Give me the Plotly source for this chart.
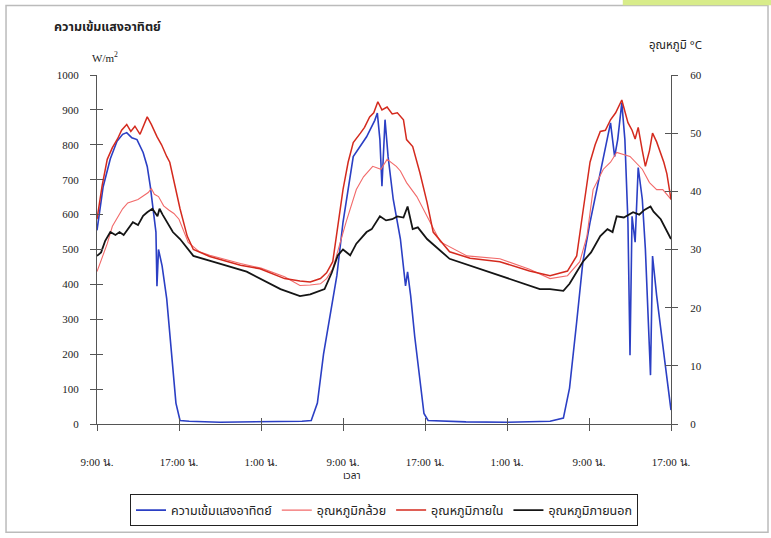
import plotly.graph_objects as go

# ---------------- data (hours since 9:00 of day 1) ----------------
tick_hours = [0, 8, 16, 24, 32, 40, 48, 56]
tick_labels = ["9:00 น.", "17:00 น.", "1:00 น.", "9:00 น.", "17:00 น.", "1:00 น.", "9:00 น.", "17:00 น."]

solar_hours = [0, 0.6, 1.3, 1.95, 2.5, 2.9, 3.4, 3.9, 4.5, 4.9, 5.2, 5.5, 5.75, 5.85, 6.0, 6.15, 6.35,
               6.8, 7.3, 7.7, 8.1, 9, 12, 16, 20, 20.9, 21.5, 22.1, 22.85, 23.4, 24.0, 25.0, 26.3,
               27.1, 27.35, 27.6, 27.8, 28.1, 28.4, 28.9, 29.6, 30.1, 30.3, 30.6, 31.0, 31.5, 31.9,
               32.3, 36, 40, 44.2, 45.5, 46.1, 46.8, 47.4, 48.1, 49.1, 50.1, 50.5, 50.8, 51.2, 51.5,
               51.8, 52.0, 52.2, 52.5, 52.8, 53.2, 53.5, 54.0, 54.2, 54.6, 55.4, 56.0]
solar_wm2 = [555, 680, 760, 810, 830, 835, 820, 815, 778, 738, 681, 615, 550, 395, 500, 480, 453,
             359, 200, 60, 10, 8, 5, 6, 8, 10, 60, 200, 330, 425, 578, 766, 823,
             870, 891, 815, 681, 872, 766, 644, 530, 396, 436, 368, 250, 120, 30,
             10, 6, 5, 8, 17, 103, 293, 464, 578, 720, 863, 766, 815, 920, 815,
             578, 197, 595, 521, 735, 644, 501, 140, 481, 368, 179, 40]

inner_hours = [0, 0.5, 1.0, 1.5, 2.0, 2.4, 2.9, 3.3, 3.7, 4.2, 4.9, 5.3, 5.85, 6.3, 6.8, 7.1, 7.6, 8.1,
               8.8, 9.4, 11.0, 14.0, 15.9, 18.3, 19.8, 20.8, 21.8, 22.4, 23.0, 23.5, 24.0, 24.5, 25.0,
               25.7, 26.1, 26.6, 27.0, 27.4, 27.8, 28.3, 28.8, 29.3, 29.9, 30.2, 30.8, 31.5, 32.2,
               32.8, 34.4, 36.4, 39.3, 42.2, 44.2, 45.9, 46.8, 47.4, 48.1, 48.6, 49.1, 49.6, 50.1,
               50.6, 51.2, 51.8, 52.2, 52.5, 52.8, 53.2, 53.5, 53.9, 54.2, 54.6, 54.9, 55.3, 55.6, 56.0]
inner_temp = [35.2, 41, 45.5, 47.5, 49, 50.5, 51.5, 50.3, 51.2, 49.8, 52.8, 51.5, 49.4, 48.0, 46.0, 45.0, 41, 37,
              32.3, 30.0, 28.8, 27.3, 26.7, 25, 24.6, 24.4, 25, 26, 27.9, 34, 40.3, 45, 48.4,
              50, 51, 52.8, 53.5, 55.4, 54.0, 54.5, 53.3, 53.5, 52.3, 48.9, 47.7, 43.2, 38.1,
              33, 29.6, 28.5, 27.9, 26.3, 25.5, 26.3, 28.9, 36.4, 45, 48, 50.3, 50.5, 52.3,
              53.5, 55.7, 51.8, 50.5, 49, 51, 47, 44.3, 47, 50, 48.5, 47, 45, 43, 38.6]

banana_hours = [0, 0.5, 1.0, 1.5, 2.0, 2.5, 3.0, 3.5, 4.0, 4.5, 5.0, 5.3, 5.6, 6.0, 6.5, 7.0, 7.5, 8.0,
                8.9, 10.0, 11.0, 14.0, 16.0, 18.3, 19.8, 20.8, 21.8, 22.4, 23.0, 24.3, 25.3, 26.0,
                26.9, 27.7, 28.3, 29.2, 29.6, 30.2, 31.2, 32.2, 33.5, 36.1, 39.3, 42.2, 44.2, 45.9,
                47.1, 47.8, 48.4, 49.4, 50.1, 50.7, 52.0, 53.2, 53.9, 54.6, 55.2, 56.0]
banana_temp = [26.2, 28.5, 31, 34, 35.5, 37, 38, 38.3, 38.6, 39.2, 39.8, 40.5, 39.5, 39.1, 37.5, 36.8, 36.2, 35.2,
               31.2, 29.6, 29.0, 27.6, 26.8, 25.3, 23.8, 23.9, 24.1, 25, 26.7, 34.7, 40.3, 42.5,
               44.3, 43.8, 45.5, 44.3, 43.5, 41.5, 39.1, 35.7, 31.3, 28.9, 28.4, 26.6, 25, 25.5,
               27.9, 32.3, 40.3, 43.8, 45, 46.7, 46, 43.8, 41.5, 40.3, 40.3, 38.6]

outside_hours = [0, 0.4, 0.8, 1.3, 1.8, 2.2, 2.6, 3.1, 3.5, 4.0, 4.5, 4.9, 5.4, 5.9, 6.1, 6.4, 6.8, 7.4,
                 8.1, 9.4, 11.3, 14.6, 17.9, 19.8, 20.8, 22.2, 22.9, 23.5, 24.0, 24.7, 25.3, 25.8,
                 26.3, 26.8, 27.6, 28.2, 28.8, 29.3, 29.9, 30.3, 30.8, 31.3, 32.2, 34.4, 39.3, 43.2,
                 44.2, 45.5, 46.1, 47.4, 48.2, 49.1, 49.8, 50.3, 50.7, 51.4, 52.3, 52.9, 53.4, 54.0,
                 54.3, 55.0, 56.0]
outside_temp = [28.9, 29.5, 31.5, 33, 32.5, 33, 32.5, 33.8, 34.7, 34.2, 35.8, 36.4, 37, 35.7, 37, 36, 34.7, 33,
                31.8, 28.9, 27.9, 26.2, 23.2, 22, 22.3, 23.2, 26, 29, 30, 29, 31, 32,
                33, 33.5, 35.7, 35, 35.2, 35.7, 35.5, 37.4, 33.5, 33.8, 31.8, 28.4, 25.5, 23.2,
                23.2, 22.9, 24.1, 27.9, 29.5, 32.3, 33.5, 33, 35.7, 35.5, 36.4, 36, 36.8, 37.4,
                36.5, 35.2, 31.8]

series_names = ["ความเข้มแสงอาทิตย์", "อุณหภูมิกล้วย", "อุณหภูมิภายใน", "อุณหภูมิภายนอก"]

# ---------------- figure ----------------
serif = "Liberation Serif, Times New Roman, serif"
thai = "Noto Sans Thai, Loma, Garuda, Tlwg Typo, DejaVu Sans, sans-serif"

fig = go.Figure()
fig.add_trace(go.Scatter(x=solar_hours, y=solar_wm2, name=series_names[0], mode="lines",
                         line=dict(color="#2b3fc4", width=1.6), yaxis="y"))
fig.add_trace(go.Scatter(x=banana_hours, y=banana_temp, name=series_names[1], mode="lines",
                         line=dict(color="#f26a6a", width=1.1), yaxis="y2"))
fig.add_trace(go.Scatter(x=inner_hours, y=inner_temp, name=series_names[2], mode="lines",
                         line=dict(color="#d42a1e", width=1.5), yaxis="y2"))
fig.add_trace(go.Scatter(x=outside_hours, y=outside_temp, name=series_names[3], mode="lines",
                         line=dict(color="#151515", width=1.8), yaxis="y2"))

axis_font = dict(family=serif, size=11, color="#222")
fig.update_layout(
    width=771, height=538,
    margin=dict(l=97, r=100, t=75, b=112),
    paper_bgcolor="white", plot_bgcolor="white",
    showlegend=True,
    xaxis=dict(range=[0, 56], tickvals=tick_hours, ticktext=tick_labels, showgrid=False,
               zeroline=False, showline=True, linecolor="#555", linewidth=1,
               ticks="outside", ticklen=6, tickcolor="#555", tickfont=axis_font,
               ticklabelstandoff=22),
    xaxis2=dict(range=[0, 56], tickvals=tick_hours, overlaying="x", side="bottom",
                showticklabels=False, showgrid=False, zeroline=False,
                ticks="inside", ticklen=6, tickcolor="#555", anchor="y"),
    yaxis=dict(range=[0, 1000], dtick=100, showgrid=False, zeroline=False, showline=True,
               linecolor="#555", linewidth=1, ticks="outside", ticklen=6, tickcolor="#555",
               tickfont=axis_font, ticklabelstandoff=9),
    yaxis2=dict(range=[0, 60], dtick=10, overlaying="y", side="right", showgrid=False,
                zeroline=False, showline=True, linecolor="#555", linewidth=1, ticks="outside",
                ticklen=6, tickcolor="#555", tickfont=axis_font, ticklabelstandoff=10),
    yaxis3=dict(range=[0, 1000], dtick=100, overlaying="y", side="left", showgrid=False,
                zeroline=False, showticklabels=False, ticks="inside", ticklen=6, tickcolor="#555"),
    yaxis4=dict(range=[0, 60], dtick=10, overlaying="y", side="right", showgrid=False,
                zeroline=False, showticklabels=False, ticks="inside", ticklen=6, tickcolor="#555"),
    legend=dict(orientation="h", x=0.5, xanchor="center", y=-0.202, yanchor="top",
                bordercolor="#222", borderwidth=1, bgcolor="white",
                font=dict(family=thai, size=12.5, color="#222"), itemwidth=30),
)

# invisible helper traces so the overlay tick axes are drawn
fig.add_trace(go.Scatter(x=[None], y=[None], xaxis="x2", yaxis="y3", showlegend=False, hoverinfo="skip"))
fig.add_trace(go.Scatter(x=[None], y=[None], xaxis="x", yaxis="y4", showlegend=False, hoverinfo="skip"))

fig.add_annotation(text="<b>ความเข้มแสงอาทิตย์</b>", xref="paper", yref="paper", x=-0.078, y=1.137,
                   xanchor="left", yanchor="middle", showarrow=False,
                   font=dict(family=thai, size=12.5, color="#222"))
fig.add_annotation(text="W/m<sup>2</sup>", xref="paper", yref="paper", x=-0.012, y=1.051,
                   xanchor="left", yanchor="middle", showarrow=False,
                   font=dict(family=serif, size=11, color="#222"))
fig.add_annotation(text="อุณหภูมิ °C", xref="paper", yref="paper", x=1.007, y=1.085,
                   xanchor="center", yanchor="middle", showarrow=False,
                   font=dict(family=thai, size=11.5, color="#222"))
fig.add_annotation(text="เวลา", xref="paper", yref="paper", x=0.444, y=-0.148,
                   xanchor="center", yanchor="middle", showarrow=False,
                   font=dict(family=thai, size=10, color="#222"))

# scanned page frame
fig.add_shape(type="rect", xref="paper", yref="paper", x0=-0.1585, x1=1.169, y0=-0.3105, y1=1.199,
              line=dict(color="#bbb", width=1.5), fillcolor="rgba(0,0,0,0)", layer="below")
fig.add_shape(type="rect", xref="paper", yref="paper", x0=0.916, x1=1.2, y0=1.2, y1=1.22,
              line=dict(width=0), fillcolor="#d8ec8a", layer="below")

fig.write_html("out.html", config={"displayModeBar": False},
               post_script="document.body.style.margin='0px';")
